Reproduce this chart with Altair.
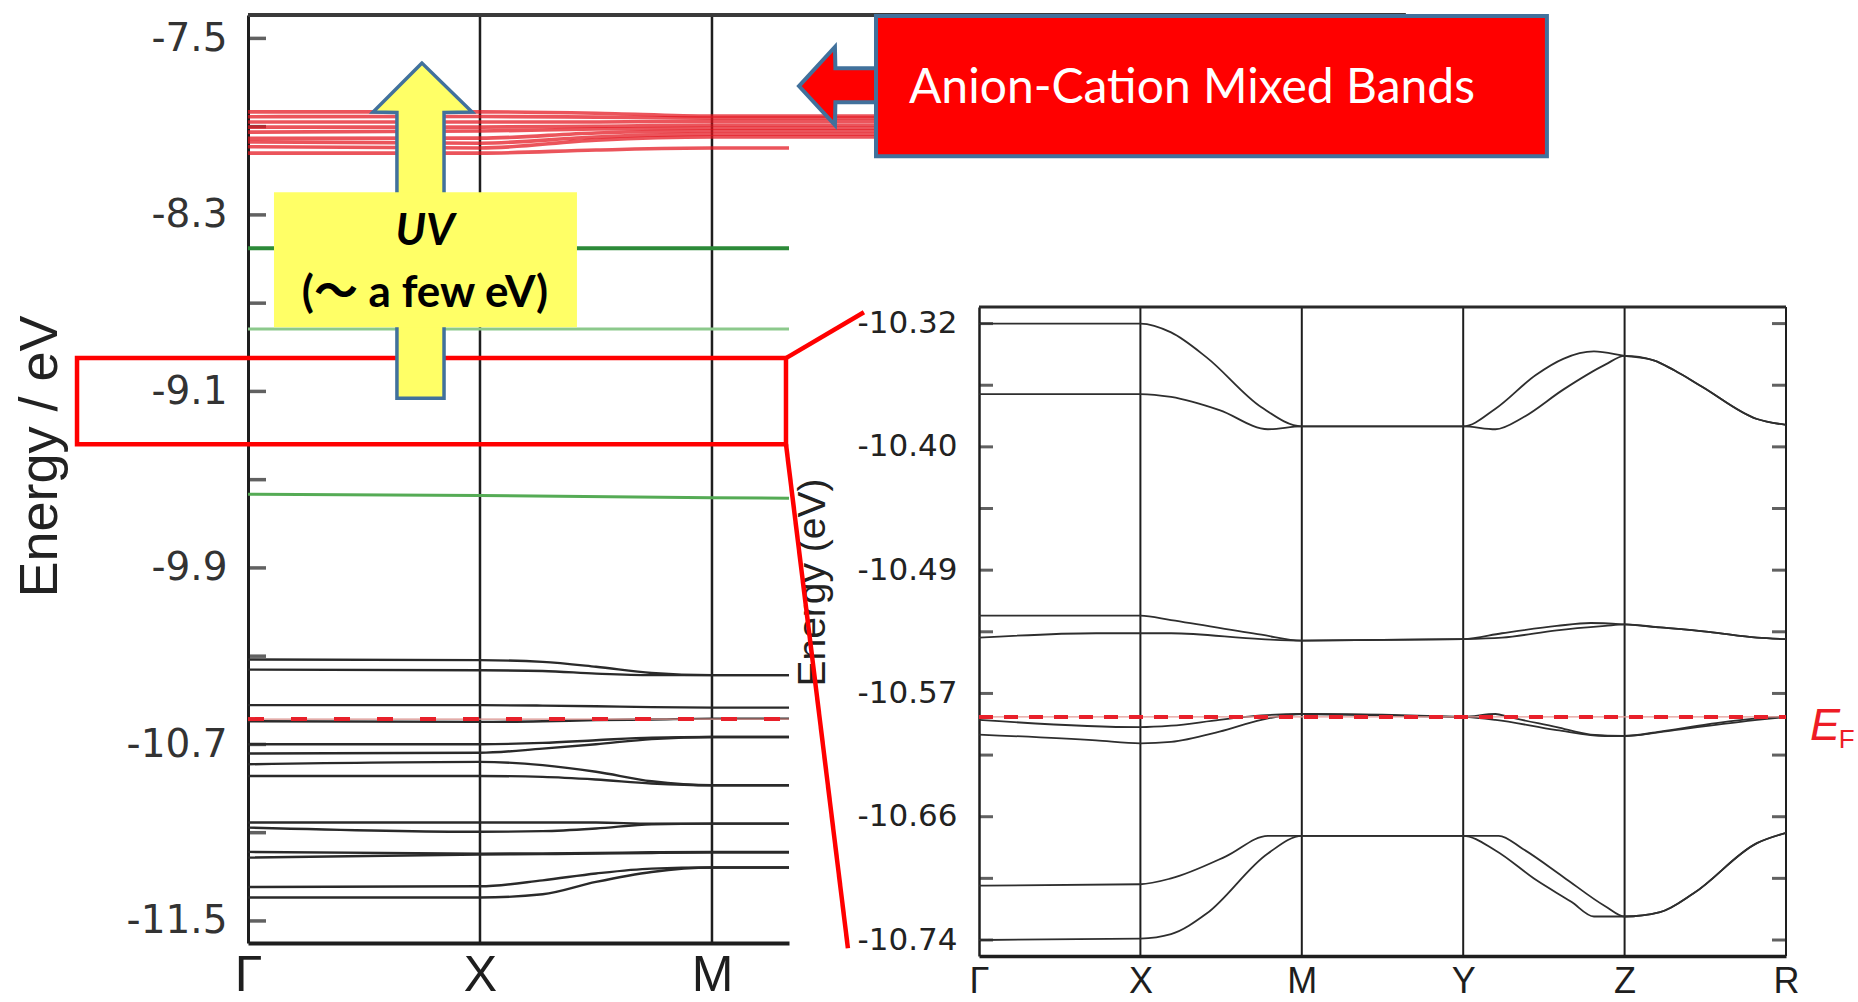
import altair as alt
import pandas as pd

W, H = 1858, 1002

# ---------------- left panel: wide energy window along Γ–X–M ----------------
LEFT_KPOINTS = [0, 1, 2]
LEFT_KLABELS = ["Γ", "X", "M"]
LEFT_YTICKS = [-7.5, -8.3, -9.1, -9.9, -10.7, -11.5]
LEFT_YMINOR = [-7.9, -8.7, -9.5, -10.3, -11.1]
LEFT_K_DOMAIN = [0, 2.332]
LEFT_E_DOMAIN = [-11.6, -7.394]
LEFT_EF = -10.585

# valence bands below and around E_F
LEFT_K = [0, 1, 1.27, 1.5, 1.74, 2, 2.332]
LEFT_VALENCE = [
    [-10.315, -10.318, -10.326, -10.348, -10.376, -10.386, -10.386],
    [-10.361, -10.364, -10.367, -10.379, -10.386, -10.386, -10.386],
    [-10.522, -10.522, -10.524, -10.527, -10.531, -10.533, -10.533],
    [-10.595, -10.598, -10.595, -10.590, -10.587, -10.583, -10.583],
    [-10.699, -10.699, -10.693, -10.681, -10.669, -10.666, -10.666],
    [-10.741, -10.738, -10.719, -10.699, -10.676, -10.666, -10.666],
    [-10.790, -10.779, -10.794, -10.824, -10.867, -10.885, -10.885],
    [-10.843, -10.843, -10.847, -10.859, -10.877, -10.885, -10.885],
    [-11.054, -11.054, -11.054, -11.054, -11.059, -11.059, -11.059],
    [-11.077, -11.096, -11.093, -11.081, -11.062, -11.059, -11.059],
    [-11.187, -11.195, -11.194, -11.192, -11.189, -11.187, -11.187],
    [-11.213, -11.199, -11.197, -11.195, -11.192, -11.190, -11.190],
    [-11.346, -11.343, -11.316, -11.285, -11.263, -11.258, -11.258],
    [-11.394, -11.394, -11.379, -11.323, -11.278, -11.258, -11.258],
]

# anion-cation mixed bands at the top of the window
LEFT_MIXED_K = [0, 1, 1.5, 2, 2.332, 2.72]
LEFT_MIXED = [
    [-7.833, -7.833, -7.839, -7.852, -7.852, -7.852],
    [-7.855, -7.854, -7.857, -7.861, -7.861, -7.861],
    [-7.879, -7.879, -7.879, -7.875, -7.875, -7.875],
    [-7.902, -7.902, -7.898, -7.893, -7.893, -7.893],
    [-7.925, -7.920, -7.911, -7.907, -7.907, -7.907],
    [-7.953, -7.952, -7.929, -7.920, -7.920, -7.920],
    [-7.969, -7.975, -7.947, -7.934, -7.934, -7.934],
    [-7.991, -7.997, -7.961, -7.947, -7.947, -7.947],
    [-8.020, -8.020, -8.006, -7.997, -7.997],
]

# flat in-gap states
LEFT_GAP_K = [0, 1, 2, 2.332]
LEFT_GAP = [
    [-8.451, -8.451, -8.451, -8.451],
    [-8.817, -8.817, -8.817, -8.817],
    [-9.566, -9.572, -9.582, -9.584],
]
LEFT_GAP_COLORS = ["#2c8a38", "#8cc98c", "#55ab55"]
LEFT_GAP_WIDTHS = [4, 3, 3]

# ---------------- right panel: close-up near E_F along Γ–X–M–Y–Z–R ----------------
RIGHT_KPOINTS = [0, 1, 2, 3, 4, 5]
RIGHT_KLABELS = ["Γ", "X", "M", "Y", "Z", "R"]
RIGHT_YTICKS = [-10.32, -10.404, -10.488, -10.572, -10.656, -10.74]
RIGHT_YMINOR = [-10.362, -10.446, -10.53, -10.614, -10.698]
RIGHT_K_DOMAIN = [0, 5]
RIGHT_E_DOMAIN = [-10.7509, -10.3087]
RIGHT_EF = -10.588

RIGHT_A1_K = [0, 1, 1.19, 1.41, 1.75, 2, 3, 3.2, 3.45, 3.62, 3.81, 4, 4.18, 4.31, 4.48, 4.82, 5]
RIGHT_A1_E = [-10.320, -10.320, -10.326, -10.343, -10.377, -10.390, -10.390, -10.378, -10.355,
              -10.344, -10.339, -10.342, -10.345, -10.352, -10.363, -10.385, -10.389]
RIGHT_A2_K = [0, 1, 1.19, 1.49, 1.79, 2, 3, 3.2, 3.37, 3.62, 3.88, 4, 4.18, 4.31, 4.48, 4.82, 5]
RIGHT_A2_E = [-10.368, -10.368, -10.370, -10.379, -10.392, -10.390, -10.390, -10.392, -10.384,
              -10.365, -10.348, -10.342, -10.345, -10.352, -10.363, -10.385, -10.389]
RIGHT_B1_K = [0, 1, 1.19, 1.75, 2, 3, 3.24, 3.58, 3.79, 4, 4.22, 4.52, 4.82, 5]
RIGHT_B1_E = [-10.519, -10.519, -10.522, -10.532, -10.536, -10.535, -10.531, -10.526, -10.524,
              -10.525, -10.527, -10.530, -10.534, -10.535]
RIGHT_B2_K = [0, 0.725, 1, 1.19, 1.75, 2, 3, 3.24, 3.58, 3.88, 4, 4.22, 4.52, 4.82, 5]
RIGHT_B2_E = [-10.534, -10.531, -10.531, -10.531, -10.535, -10.536, -10.535, -10.534, -10.529,
              -10.526, -10.525, -10.527, -10.530, -10.534, -10.535]
RIGHT_C1_K = [0, 1, 1.19, 1.49, 1.75, 2, 3, 3.2, 3.28, 3.58, 3.79, 4, 4.22, 4.52, 4.82, 5]
RIGHT_C1_E = [-10.590, -10.595, -10.594, -10.590, -10.587, -10.586, -10.588, -10.586, -10.588,
              -10.595, -10.600, -10.601, -10.598, -10.593, -10.589, -10.588]
RIGHT_C2_K = [0, 0.725, 1, 1.19, 1.49, 1.75, 2, 3, 3.2, 3.58, 3.88, 4, 4.31, 4.82, 5]
RIGHT_C2_E = [-10.600, -10.604, -10.606, -10.605, -10.598, -10.590, -10.586, -10.588, -10.590,
              -10.597, -10.601, -10.601, -10.597, -10.590, -10.588]
RIGHT_D1_K = [0, 1, 1.19, 1.53, 1.79, 2, 3, 3.22, 3.37, 3.62, 3.88, 4, 4.22, 4.43, 4.82, 5]
RIGHT_D1_E = [-10.703, -10.702, -10.698, -10.683, -10.669, -10.669, -10.669, -10.669, -10.678,
              -10.697, -10.717, -10.724, -10.721, -10.708, -10.674, -10.667]
RIGHT_D2_K = [0, 1, 1.19, 1.41, 1.79, 2, 3, 3.2, 3.45, 3.67, 3.81, 4, 4.22, 4.43, 4.82, 5]
RIGHT_D2_E = [-10.740, -10.739, -10.736, -10.722, -10.681, -10.669, -10.669, -10.679, -10.699,
              -10.714, -10.724, -10.724, -10.721, -10.708, -10.674, -10.667]

# ---------------- where each panel sits on the page (pixels) ----------------
LEFT_X_PX, LEFT_Y_PX = [248, 789], [943, 15]
RIGHT_X_PX, RIGHT_Y_PX = [979, 1786], [956, 307]

INK = "#1e1e1e"
RED = "#ff0000"
EF_RED = "#e8202a"
OUTLINE = "#41719c"
YELLOW = "#ffff66"


def label_expr(values, labels):
    expr = f"'{labels[-1]}'"
    for v, lab in reversed(list(zip(values[:-1], labels[:-1]))):
        expr = f"datum.value == {v} ? '{lab}' : {expr}"
    return expr


def number_expr(fmt):
    return f"replace(format(datum.value, '{fmt}'), '\u2212', '-')"


def band_frame(k, bands, tag):
    rows = []
    for i, energies in enumerate(bands):
        for kk, ee in zip(k, energies):
            rows.append({"k": kk, "E": ee, "band": f"{tag}{i}"})
    return pd.DataFrame(rows)


# ---------------- scales and axes ----------------
LXS = alt.Scale(domain=LEFT_K_DOMAIN, range=LEFT_X_PX, nice=False, zero=False)
LYS = alt.Scale(domain=LEFT_E_DOMAIN, range=LEFT_Y_PX, nice=False, zero=False)
RXS = alt.Scale(domain=RIGHT_K_DOMAIN, range=RIGHT_X_PX, nice=False, zero=False)
RYS = alt.Scale(domain=RIGHT_E_DOMAIN, range=RIGHT_Y_PX, nice=False, zero=False)

LXA = alt.Axis(orient="bottom", offset=LEFT_Y_PX[0] - H, values=LEFT_KPOINTS,
               labelExpr=label_expr(LEFT_KPOINTS, LEFT_KLABELS), ticks=False, grid=False,
               domainColor=INK, domainWidth=4, labelFont="Liberation Sans", labelFontSize=50,
               labelColor=INK, labelPadding=7, labelFlush=False, labelOverlap=False, title=None)
LYA = alt.Axis(orient="left", offset=-LEFT_X_PX[0], values=LEFT_YTICKS,
               labelExpr=number_expr(".1f"), ticks=False, grid=False,
               domainColor=INK, domainWidth=3, labelFont="DejaVu Sans", labelFontSize=39,
               labelColor="#333333", labelPadding=21, labelOverlap=False, labelFlush=False,
               title="Energy / eV", titleFont="Liberation Sans", titleFontSize=54,
               titleFontWeight="normal", titleColor="#222222", titleAngle=270,
               titleX=40 - LEFT_X_PX[0], titleY=456, titleAlign="center", titleBaseline="middle")
RXA = alt.Axis(orient="bottom", offset=RIGHT_Y_PX[0] - H, values=RIGHT_KPOINTS,
               labelExpr=label_expr(RIGHT_KPOINTS, RIGHT_KLABELS), ticks=False, grid=False,
               domainColor=INK, domainWidth=3.5, labelFont="Liberation Sans", labelFontSize=36,
               labelColor=INK, labelPadding=8, labelFlush=False, labelOverlap=False, title=None)
RYA = alt.Axis(orient="left", offset=-RIGHT_X_PX[0], values=RIGHT_YTICKS,
               labelExpr=number_expr(".2f"), ticks=False, grid=False,
               domainColor=INK, domainWidth=2.5, labelFont="DejaVu Sans", labelFontSize=31,
               labelColor="#222222", labelPadding=22, labelOverlap=False, labelFlush=False,
               title="Energy (eV)", titleFont="Liberation Sans", titleFontSize=39,
               titleFontWeight="normal", titleColor="#222222", titleAngle=270,
               titleX=812 - RIGHT_X_PX[0], titleY=582, titleAlign="center", titleBaseline="middle")


def lx(f="k"):
    return alt.X(f"{f}:Q", scale=LXS, axis=LXA)


def ly(f="E"):
    return alt.Y(f"{f}:Q", scale=LYS, axis=LYA)


def rx(f="k"):
    return alt.X(f"{f}:Q", scale=RXS, axis=RXA)


def ry(f="E"):
    return alt.Y(f"{f}:Q", scale=RYS, axis=RYA)


# ---------------- left panel layers ----------------
left_sym = alt.Chart(pd.DataFrame({"k": LEFT_KPOINTS[1:], "E": LEFT_E_DOMAIN[0],
                                   "E2": LEFT_E_DOMAIN[1]})).mark_rule(
    color=INK, strokeWidth=2.5).encode(x=lx(), y=ly(), y2="E2:Q")

left_top = alt.Chart(pd.DataFrame({"k": [0], "k2": [4.991], "E": [LEFT_E_DOMAIN[1]]})).mark_rule(
    color="#3a3a3a", strokeWidth=4).encode(x=lx(), x2="k2:Q", y=ly())

left_ticks = alt.Chart(pd.DataFrame({"k": 0, "E": LEFT_YTICKS + LEFT_YMINOR})).mark_tick(
    orient="horizontal", size=18, thickness=3.5, xOffset=9, color=INK).encode(x=lx(), y=ly())

left_valence = alt.Chart(band_frame(LEFT_K, LEFT_VALENCE, "v")).mark_line(
    color="#2a2a2a", strokeWidth=2.4, interpolate="monotone").encode(x=lx(), y=ly(), detail="band:N")

left_mixed = alt.Chart(band_frame(LEFT_MIXED_K, LEFT_MIXED, "m")).mark_line(
    color="#e3121c", strokeWidth=3.6, opacity=0.72, interpolate="monotone").encode(
    x=lx(), y=ly(), detail="band:N")

gap_layers = []
for energies, col, wid in zip(LEFT_GAP, LEFT_GAP_COLORS, LEFT_GAP_WIDTHS):
    gap_layers.append(alt.Chart(pd.DataFrame({"k": LEFT_GAP_K, "E": energies})).mark_line(
        color=col, strokeWidth=wid).encode(x=lx(), y=ly()))

left_ef_df = pd.DataFrame({"k": [LEFT_K_DOMAIN[0]], "k2": [LEFT_K_DOMAIN[1]], "E": [LEFT_EF]})
left_ef_thin = alt.Chart(left_ef_df).mark_rule(color="#d9908c", strokeWidth=1.3).encode(
    x=lx(), x2="k2:Q", y=ly())
left_ef = alt.Chart(left_ef_df).mark_rule(color=EF_RED, strokeWidth=4, strokeDash=[16, 27]).encode(
    x=lx(), x2="k2:Q", y=ly())

# highlighted window and its connectors to the close-up
highlight = alt.Chart(pd.DataFrame({"k": [-0.737], "k2": [2.319], "E": [-8.949], "E2": [-9.339]})).mark_rect(
    filled=False, color=RED, strokeWidth=4.5).encode(x=lx(), x2="k2:Q", y=ly(), y2="E2:Q")
connectors = alt.Chart(pd.DataFrame({"k": [2.319, 2.319], "E": [-8.949, -9.339],
                                     "k2": [2.655, 2.586], "E2": [-8.741, -11.624]})).mark_rule(
    color=RED, strokeWidth=4.5).encode(x=lx(), y=ly(), x2="k2:Q", y2="E2:Q")

# upward "UV" arrow (outline traced along the energy axis) with its label box
uv_arrow = alt.Chart(pd.DataFrame({
    "E": [-9.131, -7.836, -7.834, -7.612],
    "k": [0.642, 0.642, 0.539, 0.750],
    "k2": [0.845, 0.845, 0.966, 0.750],
})).mark_area(orient="horizontal", fill=YELLOW, stroke=OUTLINE, strokeWidth=3.5,
              strokeJoin="miter").encode(y=ly(), x=lx(), x2="k2:Q")
uv_box = alt.Chart(pd.DataFrame({"k": [0.112], "k2": [1.418], "E": [-8.197], "E2": [-8.809]})).mark_rect(
    color=YELLOW).encode(x=lx(), x2="k2:Q", y=ly(), y2="E2:Q")
uv_text = alt.Chart(pd.DataFrame({"k": [0.763], "E": [-8.437], "t": ["UV"]})).mark_text(
    font="Lato", fontSize=44, fontWeight="bold", fontStyle="italic", color="black",
    align="center", baseline="alphabetic").encode(x=lx(), y=ly(), text="t:N")
uv_sub = alt.Chart(pd.DataFrame({"k": [0.763], "E": [-8.718], "t": ["(\uff5e a few eV)"]})).mark_text(
    font="Lato, Noto Sans CJK JP", fontSize=44, fontWeight="bold", color="black",
    align="center", baseline="alphabetic").encode(x=lx(), y=ly(), text="t:N")

# callout pointing at the mixed bands (outline traced along k)
callout_arrow = alt.Chart(pd.DataFrame({
    "k": [2.375, 2.530, 2.532, 2.707],
    "E": [-7.716, -7.539, -7.635, -7.635],
    "E2": [-7.716, -7.893, -7.789, -7.789],
})).mark_area(orient="vertical", fill=RED, stroke=OUTLINE, strokeWidth=4,
              strokeJoin="miter").encode(x=lx(), y=ly(), y2="E2:Q")
callout_box = alt.Chart(pd.DataFrame({"k": [2.707], "k2": [5.599], "E": [-7.399], "E2": [-8.034]})).mark_rect(
    fill=RED, stroke=OUTLINE, strokeWidth=4).encode(x=lx(), x2="k2:Q", y=ly(), y2="E2:Q")
callout_text = alt.Chart(pd.DataFrame({"k": [4.069], "E": [-7.793],
                                       "t": ["Anion-Cation Mixed Bands"]})).mark_text(
    font="Lato", fontSize=48, color="white", align="center", baseline="alphabetic").encode(
    x=lx(), y=ly(), text="t:N")

left_panel = alt.layer(
    left_sym, left_top, left_ticks, left_valence, left_mixed, *gap_layers,
    left_ef_thin, left_ef, highlight, connectors, uv_arrow, uv_box, uv_text, uv_sub,
    callout_arrow, callout_box, callout_text,
)

# ---------------- right panel layers ----------------
right_sym = alt.Chart(pd.DataFrame({"k": RIGHT_KPOINTS[1:], "E": RIGHT_E_DOMAIN[0],
                                    "E2": RIGHT_E_DOMAIN[1]})).mark_rule(
    color=INK, strokeWidth=2).encode(x=rx(), y=ry(), y2="E2:Q")
right_top = alt.Chart(pd.DataFrame({"k": [RIGHT_K_DOMAIN[0]], "k2": [RIGHT_K_DOMAIN[1]],
                                    "E": [RIGHT_E_DOMAIN[1]]})).mark_rule(
    color="#2a2a2a", strokeWidth=3).encode(x=rx(), x2="k2:Q", y=ry())
rticks = RIGHT_YTICKS + RIGHT_YMINOR
right_ticks_l = alt.Chart(pd.DataFrame({"k": RIGHT_K_DOMAIN[0], "E": rticks})).mark_tick(
    orient="horizontal", size=14, thickness=3, xOffset=7, color=INK).encode(x=rx(), y=ry())
right_ticks_r = alt.Chart(pd.DataFrame({"k": RIGHT_K_DOMAIN[1], "E": rticks})).mark_tick(
    orient="horizontal", size=14, thickness=3, xOffset=-7, color=INK).encode(x=rx(), y=ry())

right_bands = pd.concat([
    pd.DataFrame({"k": k, "E": e, "band": name}) for name, k, e in [
        ("a1", RIGHT_A1_K, RIGHT_A1_E), ("a2", RIGHT_A2_K, RIGHT_A2_E),
        ("b1", RIGHT_B1_K, RIGHT_B1_E), ("b2", RIGHT_B2_K, RIGHT_B2_E),
        ("c1", RIGHT_C1_K, RIGHT_C1_E), ("c2", RIGHT_C2_K, RIGHT_C2_E),
        ("d1", RIGHT_D1_K, RIGHT_D1_E), ("d2", RIGHT_D2_K, RIGHT_D2_E),
    ]
], ignore_index=True)
right_lines = alt.Chart(right_bands).mark_line(
    color="#2e2e2e", strokeWidth=1.8, interpolate="monotone").encode(x=rx(), y=ry(), detail="band:N")

right_ef_df = pd.DataFrame({"k": [RIGHT_K_DOMAIN[0]], "k2": [RIGHT_K_DOMAIN[1]], "E": [RIGHT_EF]})
right_ef_thin = alt.Chart(right_ef_df).mark_rule(color="#e39a96", strokeWidth=1.3).encode(
    x=rx(), x2="k2:Q", y=ry())
right_ef = alt.Chart(right_ef_df).mark_rule(color=EF_RED, strokeWidth=4, strokeDash=[14, 11]).encode(
    x=rx(), x2="k2:Q", y=ry())

ef_main = alt.Chart(pd.DataFrame({"k": [5.149], "E": [-10.6039], "t": ["E"]})).mark_text(
    font="Liberation Sans", fontSize=45, fontStyle="italic", color="#ee1c25",
    align="left", baseline="alphabetic").encode(x=rx(), y=ry(), text="t:N")
ef_sub = alt.Chart(pd.DataFrame({"k": [5.327], "E": [-10.6094], "t": ["F"]})).mark_text(
    font="Liberation Sans", fontSize=26, color="#ee1c25",
    align="left", baseline="alphabetic").encode(x=rx(), y=ry(), text="t:N")

right_panel = alt.layer(
    right_sym, right_top, right_ticks_l, right_ticks_r, right_lines,
    right_ef_thin, right_ef, ef_main, ef_sub,
)

chart = alt.layer(left_panel, right_panel).resolve_scale(
    x="independent", y="independent"
).properties(
    width=W, height=H, padding=0, autosize=alt.AutoSizeParams(type="none"),
    background="white",
).configure_view(stroke=None).configure_axis(grid=False)

chart.save("out.html", embed_options={"renderer": "svg", "actions": False})
